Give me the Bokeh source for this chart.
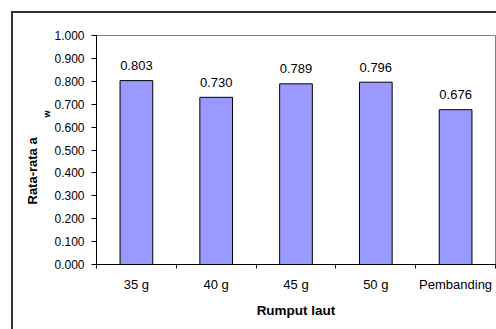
from bokeh.plotting import figure
from bokeh.layouts import column
from bokeh.models import FixedTicker, Title, ColumnDataSource, CustomJSTickFormatter
from bokeh.core.properties import value
from bokeh.embed import file_html
from bokeh.resources import INLINE

categories = ["35 g", "40 g", "45 g", "50 g", "Pembanding"]
values = [0.803, 0.730, 0.789, 0.796, 0.676]
y_ticks = [0.0, 0.1, 0.2, 0.3, 0.4, 0.5, 0.6, 0.7, 0.8, 0.9, 1.0]
x_title = "Rumput laut"
y_title = "Rata-rata a"
y_title_sub = "w"

FONT = "Liberation Sans"

centers = [i + 0.5 for i in range(len(categories))]
bounds = [float(i) for i in range(len(categories) + 1)]

src = ColumnDataSource(dict(x=centers, top=values, lab=["%.3f" % v for v in values]))

p = figure(width=483, height=316, x_range=(0, len(categories)), y_range=(0, 1),
           output_backend="svg", toolbar_location=None,
           min_border_left=83, min_border_right=1, min_border_top=22, min_border_bottom=65)
p.background_fill_color = "white"
p.border_fill_color = "white"
p.outline_line_color = "#808080"
p.outline_line_width = 1
p.xgrid.visible = False
p.ygrid.visible = False

p.vbar(x="x", top="top", width=0.41, source=src, fill_color="#9999FF",
       line_color="#000000", line_width=1)

p.text(x="x", y="top", text="lab", source=src, y_offset=-15,
       text_align="center", text_baseline="alphabetic",
       text_font=value(FONT), text_font_size="13px", text_color="#000000")

# x axis
xa = p.xaxis[0]
xa.ticker = FixedTicker(ticks=centers, minor_ticks=bounds)
xa.major_label_overrides = {c: lab for c, lab in zip(centers, categories)}
xa.major_tick_out = 0
xa.major_tick_in = 0
xa.minor_tick_out = 4
xa.minor_tick_in = 0
xa.minor_tick_line_color = "#000000"
xa.axis_line_color = "#000000"
xa.major_label_text_font = FONT
xa.major_label_text_font_size = "13px"
xa.major_label_text_color = "#000000"
xa.major_label_standoff = 8
xa.axis_label = x_title
xa.axis_label_text_font = FONT
xa.axis_label_text_font_size = "13.5px"
xa.axis_label_text_font_style = "bold"
xa.axis_label_text_color = "#000000"
xa.axis_label_standoff = 8

# y axis
ya = p.yaxis[0]
ya.ticker = FixedTicker(ticks=y_ticks, minor_ticks=[])
ya.formatter = CustomJSTickFormatter(code="return tick.toFixed(3);")
ya.major_tick_out = 5
ya.major_tick_in = 0
ya.minor_tick_out = 0
ya.minor_tick_in = 0
ya.axis_line_color = "#000000"
ya.major_tick_line_color = "#000000"
ya.major_label_text_font = FONT
ya.major_label_text_font_size = "12px"
ya.major_label_text_color = "#000000"
ya.major_label_standoff = 7

# y title with subscript (side-panel titles)
t_sub = Title(text=y_title_sub, align="left", offset=147, standoff=0,
              text_font=FONT, text_font_size="9px", text_font_style="bold",
              text_color="#000000")
t_main = Title(text=y_title, align="left", offset=60, standoff=0,
               text_font=FONT, text_font_size="13px", text_font_style="bold",
               text_color="#000000")
p.add_layout(t_sub, "left")
p.add_layout(t_main, "left")

lay = column(p, styles={"margin-left": "11px", "margin-top": "11px",
                        "border-left": "2px solid #333333",
                        "border-top": "2px solid #333333"})

open("out.html", "w").write(file_html(lay, INLINE))
